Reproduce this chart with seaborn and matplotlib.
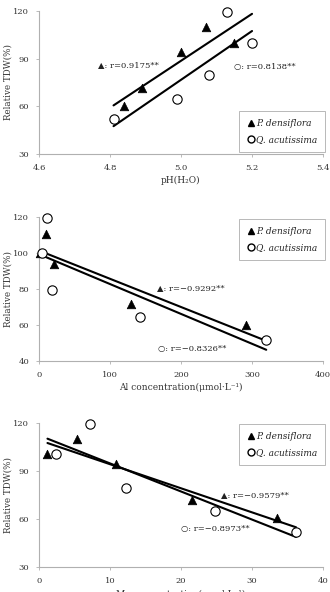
import numpy as np
import pandas as pd
import matplotlib
matplotlib.use("Agg")
import matplotlib.pyplot as plt
import seaborn as sns
from matplotlib.lines import Line2D

sns.set_theme(style="white")
plt.rcParams['font.family'] = ['DejaVu Serif', 'DejaVu Sans']

species = ["P. densiflora", "Q. acutissima"]

# Panel 1: pH
ph_pd = [4.84, 4.89, 5.00, 5.07, 5.15]
tdw_ph_pd = [60.3, 71.5, 93.9, 110.2, 99.9]
ph_qa = [4.81, 4.99, 5.08, 5.13, 5.20]
tdw_ph_qa = [51.9, 64.7, 79.5, 119.6, 99.9]

# Panel 2: Al
al_pd = [2, 10, 21, 129, 291]
tdw_al_pd = [100, 110.3, 94.0, 71.6, 59.9]
al_qa = [4, 11, 19, 142, 320]
tdw_al_qa = [100, 119.3, 79.2, 64.5, 51.5]

# Panel 3: Mn
mn_pd = [1.2, 5.3, 10.9, 21.6, 33.5]
tdw_mn_pd = [100.5, 110.2, 94.5, 71.9, 60.4]
mn_qa = [2.4, 7.2, 12.2, 24.8, 36.2]
tdw_mn_qa = [100.5, 119.6, 79.4, 65.0, 51.8]

r_labels = [("r=0.9175**", "r=0.8138**"),
            ("r=\u22120.9292**", "r=\u22120.8326**"),
            ("r=\u22120.9579**", "r=\u22120.8973**")]

xlabels = ["pH(H\u2082O)", "Al concentration(\u03bcmol\u00b7L\u207b\u00b9)", "Mn concentration(\u03bcmol\u00b7L\u207b\u00b9)"]
xlims = [(4.6, 5.4), (0, 400), (0, 40)]
xticks = [[4.6, 4.8, 5.0, 5.2, 5.4], [0, 100, 200, 300, 400], [0, 10, 20, 30, 40]]
xticklabels = [["4.6", "4.8", "5.0", "5.2", "5.4"], ["0", "100", "200", "300", "400"], ["0", "10", "20", "30", "40"]]
ylims = [(30, 120), (40, 120), (30, 120)]
yticks = [[30, 60, 90, 120], [40, 60, 80, 100, 120], [30, 60, 90, 120]]
ann_pd = [(4.765, 86), (166, 80.3), (25.6, 75)]
ann_qa = [(5.148, 85), (167, 46.5), (20.0, 53.9)]
legend_loc = ["lower right", "upper right", "upper right"]
legend_anchor = [(1.007, 0.014), (1.007, 0.986), (1.007, 0.993)]

panels = [(ph_pd, tdw_ph_pd, ph_qa, tdw_ph_qa),
          (al_pd, tdw_al_pd, al_qa, tdw_al_qa),
          (mn_pd, tdw_mn_pd, mn_qa, tdw_mn_qa)]

fig = plt.figure(figsize=(3.3, 5.92), dpi=100)
rects = [[0.118, 0.7399, 0.861, 0.2416],
         [0.118, 0.3902, 0.861, 0.2432],
         [0.118, 0.0422, 0.861, 0.2432]]

for i, (xp, yp, xq, yq) in enumerate(panels):
    ax = fig.add_axes(rects[i])
    dfp = pd.DataFrame({"x": xp, "y": yp})
    dfq = pd.DataFrame({"x": xq, "y": yq})
    lo = min(min(xp), min(xq))
    hi = max(max(xp), max(xq))
    xs = np.array([lo, hi])
    for d in (dfp, dfq):
        k, b = np.polyfit(d["x"], d["y"], 1)
        ax.plot(xs, k * xs + b, color="black", lw=1.5, zorder=2)
    sns.scatterplot(data=dfp, x="x", y="y", marker="^", s=38, color="black",
                    edgecolor="black", linewidth=0.5, ax=ax, zorder=3, clip_on=False)
    sns.scatterplot(data=dfq, x="x", y="y", marker="o", s=45, facecolor="white",
                    edgecolor="black", linewidth=0.8, ax=ax, zorder=3, clip_on=False)
    ax.set_xlim(*xlims[i])
    ax.set_ylim(*ylims[i])
    ax.set_xticks(xticks[i])
    ax.set_xticklabels(xticklabels[i])
    ax.set_yticks(yticks[i])
    ax.set_yticklabels([str(t) for t in yticks[i]])
    for s in ["top", "right"]:
        ax.spines[s].set_visible(False)
    for s in ["left", "bottom"]:
        ax.spines[s].set_color("#b0b0b0")
        ax.spines[s].set_linewidth(0.8)
    ax.tick_params(axis="both", which="both", length=2, width=0.6, color="#b0b0b0",
                   labelsize=6.0, labelcolor="#333333", pad=5, direction="out",
                   bottom=True, left=True)
    ax.set_xlabel(xlabels[i], fontsize=6.5, color="#333333", labelpad=3)
    ax.set_ylabel("Relative TDW(%)", fontsize=6.3, color="#333333")
    ax.yaxis.set_label_coords(-0.092, 0.5)
    ax.text(ann_pd[i][0], ann_pd[i][1], "\u25b2: " + r_labels[i][0], fontsize=6,
            va="center", ha="left", color="#222222")
    ax.text(ann_qa[i][0], ann_qa[i][1], "\u25cb: " + r_labels[i][1], fontsize=6,
            va="center", ha="left", color="#222222")
    handles = [Line2D([], [], marker="^", color="black", ls="none", markersize=5),
               Line2D([], [], marker="o", markerfacecolor="white", markeredgecolor="black",
                      ls="none", markersize=5)]
    leg = ax.legend(handles, species, loc=legend_loc[i], bbox_to_anchor=legend_anchor[i],
                    prop={"style": "italic", "size": 6.5}, frameon=True, fancybox=False,
                    edgecolor="#999999", handletextpad=0.1, borderpad=0.85,
                    labelspacing=0.8, handlelength=1.0, borderaxespad=0.0)
    leg.get_frame().set_linewidth(0.6)

fig.axes[2].xaxis.labelpad = 4

fig.savefig("out.png", dpi=100)
